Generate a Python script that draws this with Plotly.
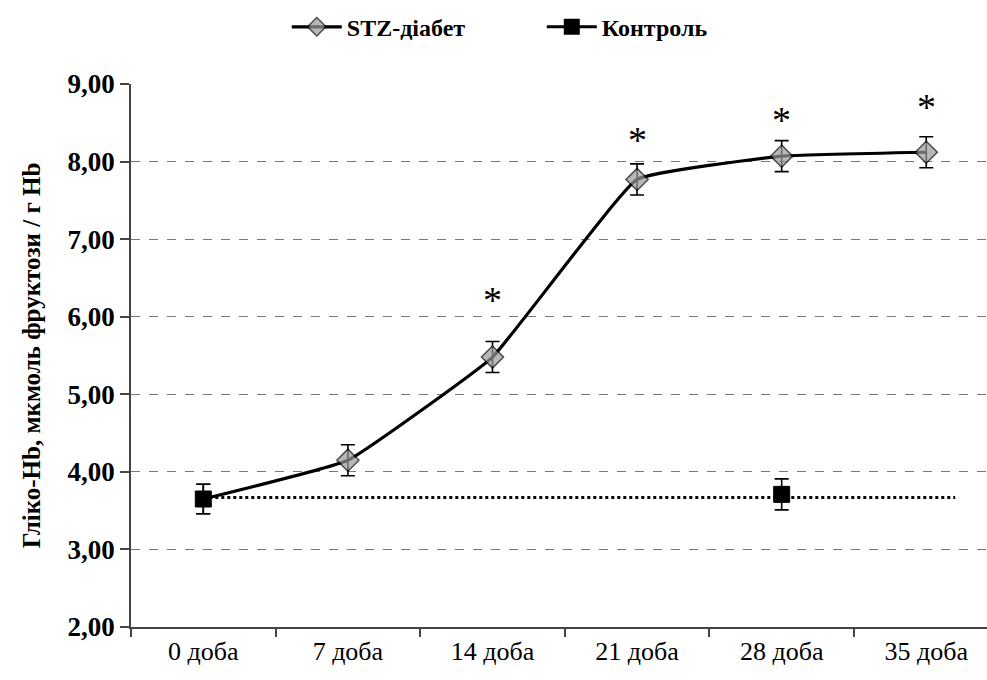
import plotly.graph_objects as go

categories = ["0 доба", "7 доба", "14 доба", "21 доба", "28 доба", "35 доба"]
stz_values = [3.65, 4.15, 5.48, 7.77, 8.07, 8.12]
stz_errors = [0.19, 0.20, 0.20, 0.20, 0.20, 0.20]
control_cats = ["0 доба", "28 доба"]
control_values = [3.65, 3.71]
control_errors = [0.19, 0.20]
control_mean = 3.67
star_cats = ["14 доба", "21 доба", "28 доба", "35 доба"]
star_y = [6.30, 8.37, 8.63, 8.79]
y_ticks = [2, 3, 4, 5, 6, 7, 8, 9]
y_ticktext = ["2,00", "3,00", "4,00", "5,00", "6,00", "7,00", "8,00", "9,00"]

FONT = "Liberation Serif"

fig = go.Figure()

# first STZ marker is hidden beneath the control square in the original
stz_marker_sizes = [0] + [17] * (len(categories) - 1)

fig.add_trace(go.Scatter(
    x=categories, y=stz_values, name="STZ-діабет",
    mode="lines+markers",
    line=dict(color="black", width=3.2, shape="spline", smoothing=0.3),
    marker=dict(symbol="diamond", size=stz_marker_sizes, color="#999999",
                line=dict(color="black", width=1.5)),
    error_y=dict(type="data", array=stz_errors, color="black",
                 thickness=1.6, width=7),
))

fig.add_trace(go.Scatter(
    x=control_cats, y=control_values, name="Контроль",
    mode="markers", showlegend=False,
    marker=dict(symbol="square", size=16, color="black",
                line=dict(color="black", width=1)),
    error_y=dict(type="data", array=control_errors, color="black",
                 thickness=1.6, width=7),
))

# legend entry for control (line + marker look)
fig.add_trace(go.Scatter(
    x=[None], y=[None], name="Контроль", mode="lines+markers",
    line=dict(color="black", width=3),
    marker=dict(symbol="square", size=16, color="black"),
))

fig.add_shape(type="line", xref="x", yref="y",
              x0=0, x1=5.2, y0=control_mean, y1=control_mean,
              line=dict(color="black", width=3, dash="dot"), layer="above")

for c, y in zip(star_cats, star_y):
    fig.add_annotation(x=c, y=y, text="*", showarrow=False,
                       font=dict(family=FONT, size=38, color="black"),
                       yanchor="middle", yshift=-7)

fig.update_layout(
    width=987, height=680,
    margin=dict(l=131, r=0, t=84, b=53),
    plot_bgcolor="white", paper_bgcolor="white",
    font=dict(family=FONT, color="black"),
    showlegend=True,
    legend=dict(orientation="h", x=0.182, xanchor="left", xref="paper",
                y=0.96, yanchor="middle", yref="container",
                font=dict(family=FONT, size=24, color="black", weight="bold"),
                itemwidth=50, entrywidth=190, entrywidthmode="pixels",
                traceorder="normal"),
)

fig.update_xaxes(
    type="category", categoryorder="array", categoryarray=categories,
    range=[-0.5, 5.42],
    showline=True, linecolor="#444444", linewidth=1.5,
    ticks="outside", ticklen=8, tickcolor="#444444", tickwidth=1.5,
    tickson="boundaries",
    showgrid=False,
    tickfont=dict(family=FONT, size=26, color="black"),
)
fig.update_yaxes(
    range=[2, 9], tickvals=y_ticks, ticktext=y_ticktext,
    showline=True, linecolor="#444444", linewidth=1.5,
    ticks="outside", ticklen=9, tickcolor="#444444", tickwidth=1.5,
    showgrid=True, gridcolor="#777777", griddash="dash", gridwidth=1.2,
    zeroline=False,
    tickfont=dict(family=FONT, size=27, color="black", weight="bold"),
    title=dict(text="Гліко-Hb, мкмоль фруктози / г Hb",
               font=dict(family=FONT, size=25, color="black", weight="bold"),
               standoff=20),
)

fig.write_html("out.html")
